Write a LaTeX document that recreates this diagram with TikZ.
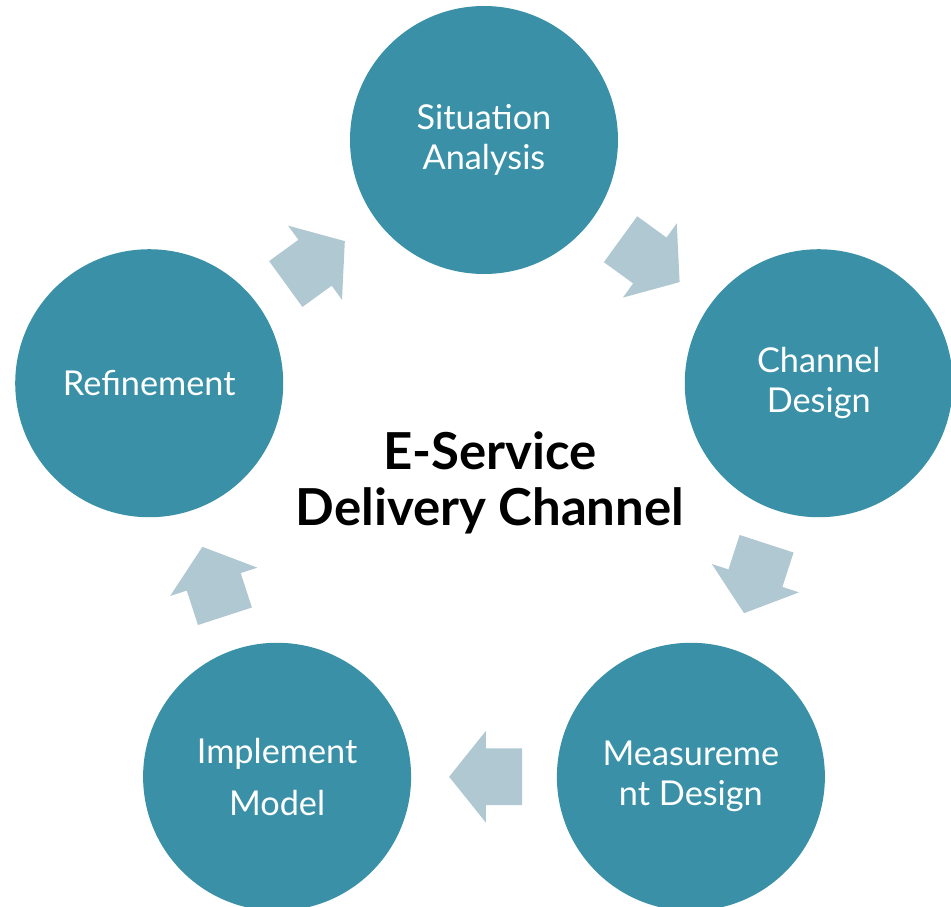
\documentclass[tikz,border=0pt]{standalone}
\usepackage{fontspec}
\setmainfont{Lato}
\usepackage{xcolor}
\usepackage{tikz}
\usetikzlibrary{shapes.arrows, calc}
\definecolor{stagefill}{RGB}{58,145,167}
\definecolor{arrowfill}{RGB}{175,200,210}
\tikzstyle{stage} = [circle, 
minimum size=5.36cm, 
inner sep=0pt, 
text centered, 
align=center, 
text=white, 
fill=stagefill, 
font=\fontsize{19.5}{22.8}\selectfont]
\tikzstyle{flowarrow} = [single arrow, 
minimum height=1.46cm, 
inner xsep=0pt, 
inner ysep=0.56cm, 
single arrow head extend=0.35cm, 
single arrow tip angle=102.5, 
fill=arrowfill]
\tikzstyle{title} = [align=center, 
font=\bfseries\fontsize{29}{32}\selectfont]

\begin{document}
\begin{tikzpicture}
\useasboundingbox (-9.68,-8.28) rectangle (9.34,9.84);
\node (sit) [stage] at (90:7.04) {Situation\\Analysis};
\node (chan) [stage] at (18:7.04) {Channel\\Design};
\node (meas) [stage] at (-54:7.04) {Measureme\\nt Design};
\node (impl) [stage] at (-126:7.04) {Implement\\[7pt]Model};
\node (ref) [stage] at (162:7.04) {Refinement};

\node (center) [title] at (0.12,0.18) {E-Service\\Delivery Channel};

% arrows half way between neighbours (nudged back, the centre anchor sits in the shaft)
\node (a1) [flowarrow, rotate=-36] at ($(sit)!0.5!(chan)!0.26cm!(sit)$) {};
\node (a2) [flowarrow, rotate=-108] at ($(chan)!0.5!(meas)!0.26cm!(chan)$) {};
\node (a3) [flowarrow, rotate=180] at ($(meas)!0.5!(impl)!0.26cm!(meas)$) {};
\node (a4) [flowarrow, rotate=108] at ($(impl)!0.5!(ref)!0.26cm!(impl)$) {};
\node (a5) [flowarrow, rotate=36] at ($(ref)!0.5!(sit)!0.26cm!(ref)$) {};
\end{tikzpicture}
\end{document}
